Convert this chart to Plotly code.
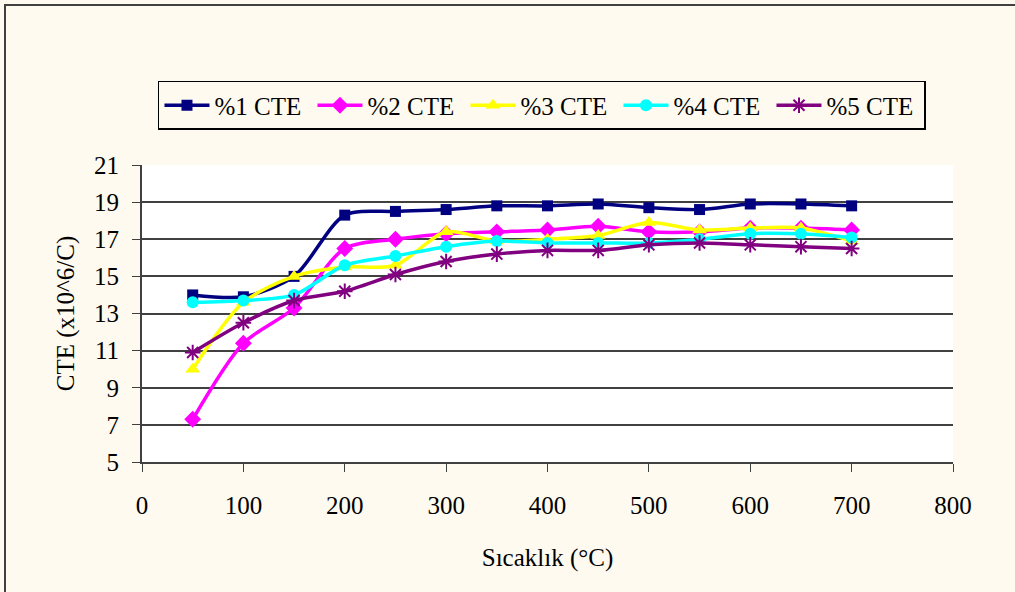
import plotly.graph_objects as go

temps = [50, 100, 150, 200, 250, 300, 350, 400, 450, 500, 550, 600, 650, 700]
cte1 = [14.0, 13.9, 15.0, 18.3, 18.5, 18.6, 18.8, 18.8, 18.9, 18.7, 18.6, 18.9, 18.9, 18.8]
cte2 = [7.3, 11.4, 13.3, 16.5, 17.0, 17.3, 17.4, 17.5, 17.7, 17.4, 17.4, 17.6, 17.6, 17.5]
cte3 = [10.0, 13.6, 15.0, 15.5, 15.6, 17.4, 16.9, 17.0, 17.2, 17.9, 17.5, 17.6, 17.6, 16.9]
cte4 = [13.6, 13.7, 14.0, 15.6, 16.1, 16.6, 16.9, 16.8, 16.8, 16.8, 17.0, 17.3, 17.3, 17.1]
cte5 = [10.9, 12.5, 13.7, 14.2, 15.1, 15.8, 16.2, 16.4, 16.4, 16.7, 16.8, 16.7, 16.6, 16.5]
names = ["%1 CTE", "%2 CTE", "%3 CTE", "%4 CTE", "%5 CTE"]
x_ticks = [0, 100, 200, 300, 400, 500, 600, 700, 800]
y_ticks = [5, 7, 9, 11, 13, 15, 17, 19, 21]

series = [cte1, cte2, cte3, cte4, cte5]
colors = ["#000080", "#FF00FF", "#FFFF00", "#00FFFF", "#800080"]
symbols = ["square", "diamond", "triangle-up", "circle", "asterisk-open"]
sizes = [11, 13, 13, 12, 13]

FONT = "Liberation Serif, Times New Roman, serif"
FS = 25

fig = go.Figure()
for vals, name, c, s, sz in zip(series, names, colors, symbols, sizes):
    fig.add_trace(go.Scatter(
        x=temps, y=vals, name=name, mode="lines+markers",
        line=dict(color=c, width=3.5, shape="spline", smoothing=0.8),
        marker=dict(symbol=s, size=sz, color=c, line=dict(color=c, width=2 if s == "asterisk-open" else 0)),
    ))

fig.update_layout(
    width=1015, height=592,
    paper_bgcolor="#FFFAF0", plot_bgcolor="#FFFFFF",
    margin=dict(l=142, r=62, t=165, b=130),
    font=dict(family=FONT, size=FS, color="#000000"),
    showlegend=True,
    legend=dict(
        orientation="h", x=0.0197, y=1.283, xanchor="left", yanchor="top",
        bgcolor="#FFFAF0", bordercolor="#000000", borderwidth=1.5,
        font=dict(family=FONT, size=FS), itemwidth=45,
        entrywidth=93, entrywidthmode="pixels",
    ),
    xaxis=dict(
        range=[0, 800], tickvals=x_ticks, ticks="outside", ticklen=8, tickcolor="#404040",
        showline=True, linecolor="#404040", linewidth=2, showgrid=False, zeroline=False,
        ticklabelstandoff=12,
        title=dict(text="Sıcaklık (°C)", font=dict(family=FONT, size=FS), standoff=30),
    ),
    yaxis=dict(
        range=[5, 21], tickvals=y_ticks, ticks="outside", ticklen=8, tickcolor="#404040",
        showline=True, linecolor="#404040", linewidth=2, showgrid=True,
        gridcolor="#404040", gridwidth=1.5, zeroline=False,
        ticklabelstandoff=8,
        title=dict(text="CTE (x10^6/C)", font=dict(family=FONT, size=FS), standoff=12),
    ),
    shapes=[dict(type="rect", xref="paper", yref="paper",
                 x0=(5 - 142) / 811, x1=(1030 - 142) / 811,
                 y0=(462 - 620) / 297, y1=(462 - 5) / 297,
                 line=dict(color="#404040", width=2), layer="below")],
)

fig.write_html(
    "out.html",
    config={"displayModeBar": False},
    post_script="document.body.style.margin='0';document.body.style.overflow='hidden';",
)
